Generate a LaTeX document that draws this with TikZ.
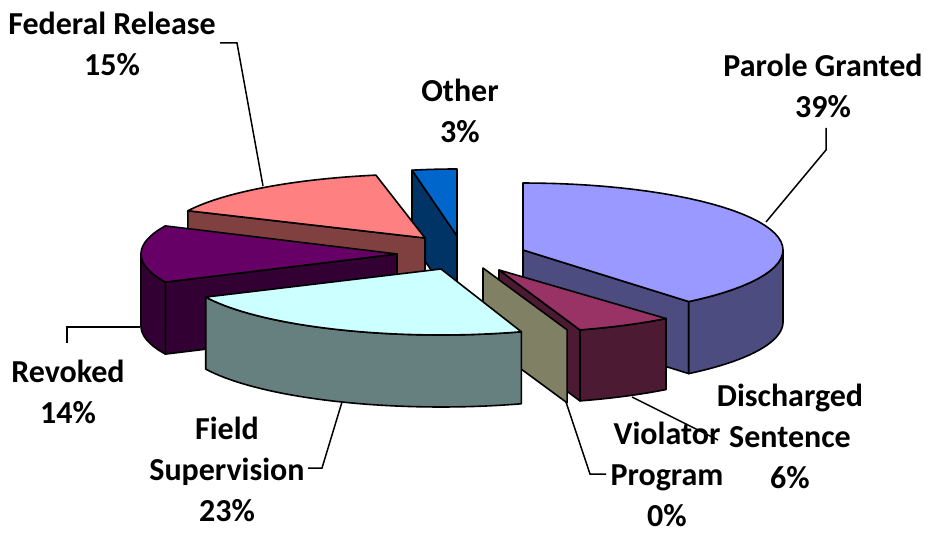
\documentclass[tikz,border=0pt]{standalone}
\usepackage{fontspec}
\setmainfont{Carlito}
\newcommand{\pcut}[7]{% cx cy a b d theta colour
  \filldraw[pieedge,fill=#7] (#1,#2) -- ({#1+#3*sin(#6)},{#2-#4*cos(#6)}) -- ({#1+#3*sin(#6)},{#2-#4*cos(#6)+#5}) -- (#1,{#2+#5}) -- cycle;}
\newcommand{\prim}[8]{% cx cy a b d t1 t2 colour
  \filldraw[pieedge,fill=#8] plot[domain=#6:#7,samples=40] ({#1+#3*sin(\x)},{#2-#4*cos(\x)}) -- plot[domain=#7:#6,samples=40] ({#1+#3*sin(\x)},{#2-#4*cos(\x)+#5}) -- cycle;}
\newcommand{\ptop}[7]{% cx cy a b t1 t2 colour
  \filldraw[pieedge,fill=#7] (#1,#2) -- plot[domain=#5:#6,samples=40] ({#1+#3*sin(\x)},{#2-#4*cos(\x)}) -- cycle;}
\definecolor{paroleT}{HTML}{9999FF}\definecolor{paroleS}{HTML}{4C4C80}
\definecolor{dischT}{HTML}{993366}\definecolor{dischS}{HTML}{4D1A33}
\definecolor{violS}{HTML}{808064}
\definecolor{fieldT}{HTML}{CCFFFF}\definecolor{fieldS}{HTML}{668080}
\definecolor{revT}{HTML}{660066}\definecolor{revS}{HTML}{330033}
\definecolor{fedT}{HTML}{FF8080}\definecolor{fedS}{HTML}{804040}
\definecolor{othT}{HTML}{0066CC}\definecolor{othS}{HTML}{003366}
\begin{document}
\begin{tikzpicture}[x=1pt,y=-1pt,
  pieedge/.style={draw=black,line width=1.6pt,line join=round},
  leader/.style={draw=black,line width=1.5pt},
  lbl/.style={align=center,inner sep=0pt,font=\fontsize{32}{41}\selectfont\bfseries}]
\useasboundingbox (0,0) rectangle (929,534);
% Other 3%
\pcut{457}{236}{240}{67}{72}{349.2}{othS}
\ptop{457}{236}{240}{67}{349.2}{360}{othT}
% Federal Release 15%
\pcut{425}{238}{262}{64}{72}{295.2}{fedS}
\ptop{425}{238}{262}{64}{295.2}{349.2}{fedT}
% Revoked 14%
\pcut{397}{254}{256}{66}{72}{244.8}{revS}
\prim{397}{254}{256}{66}{72}{244.8}{270}{revS}
\ptop{397}{254}{256}{66}{244.8}{295.2}{revT}
% Parole Granted 39%
\pcut{523}{250}{260}{67}{72}{140.4}{paroleS}
\prim{523}{250}{260}{67}{72}{90}{140.4}{paroleS}
\ptop{523}{250}{260}{67}{0}{140.4}{paroleT}
% Discharged Sentence 6%
\pcut{499}{270}{262}{63}{71}{162}{dischS}
\prim{499}{270}{262}{63}{71}{140.4}{162}{dischS}
\ptop{499}{270}{262}{63}{140.4}{162}{dischT}
% Violator Program 0%
\pcut{483}{268}{272}{65}{73}{162}{violS}
% Field Supervision 23%
\prim{441}{269}{260}{66}{72}{162}{244.8}{fieldS}
\ptop{441}{269}{260}{66}{162}{244.8}{fieldT}
% labels
\node[lbl] (fed) at (112,44) {Federal Release\\15\%};
\node[lbl] (oth) at (460,111) {Other\\3\%};
\node[lbl] (par) at (823,86) {Parole Granted\\39\%};
\node[lbl] (dis) at (790,436) {Discharged\\Sentence\\6\%};
\node[lbl] (vio) at (667,474) {Violator\\Program\\0\%};
\node[lbl] (rev) at (68,392) {Revoked\\14\%};
\node[lbl] (fld) at (227,469) {Field\\Supervision\\23\%};
% leader lines
\coordinate (fedA) at (220,43); \coordinate (fedB) at (237,43); \coordinate (fedC) at (263,186);
\draw[leader] (fedA) -- (fedB) -- (fedC);
\coordinate (parA) at (826,128); \coordinate (parB) at (826,150); \coordinate (parC) at (766,222);
\draw[leader] (parA) -- (parB) -- (parC);
\coordinate (revA) at (67,343); \coordinate (revB) at (67,327); \coordinate (revC) at (140,327);
\draw[leader] (revA) -- (revB) -- (revC);
\coordinate (fldA) at (342,402); \coordinate (fldB) at (322,468); \coordinate (fldC) at (308,468);
\draw[leader] (fldA) -- (fldB) -- (fldC);
\coordinate (disA) at (632,397); \coordinate (disB) at (718,440);
\draw[leader] (disA) -- (disB);
\coordinate (vioA) at (566,402); \coordinate (vioB) at (590,474); \coordinate (vioC) at (606,474);
\draw[leader] (vioA) -- (vioB) -- (vioC);
\end{tikzpicture}
\end{document}
